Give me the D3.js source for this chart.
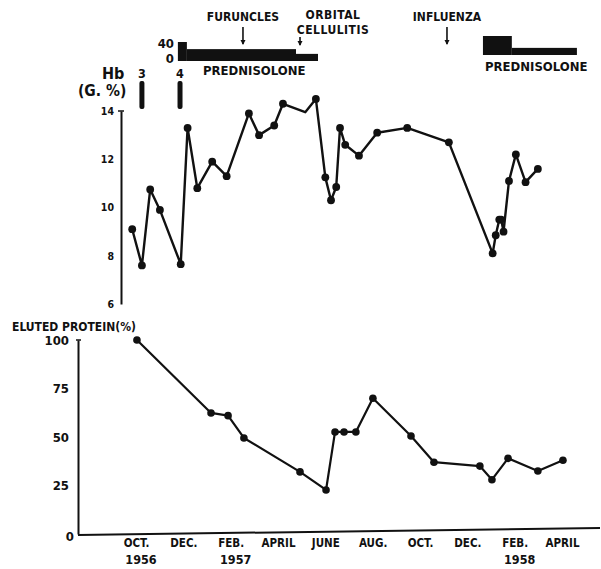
<!DOCTYPE html>
<html><head><meta charset="utf-8">
<script src="https://cdn.jsdelivr.net/npm/d3@7"></script>
<style>
html,body{margin:0;padding:0;background:#fff;}
svg text{font-family:"DejaVu Sans Condensed","DejaVu Sans",sans-serif;font-weight:bold;fill:#111;}
</style></head>
<body><svg id="c" width="601" height="569"></svg>
<script>
// ---- data (x in months since Oct 1956) ----
const monthTicks = [0,2,4,6,8,10,12,14,16,18];
const monthLabels = ["OCT.","DEC.","FEB.","APRIL","JUNE","AUG.","OCT.","DEC.","FEB.","APRIL"];
const yearTicks = [0,4,16];
const yearLabels = ["1956","1957","1958"];

const hbMonths = [-0.16,0.25,0.60,1.01,1.89,2.18,2.59,3.22,3.83,4.77,5.20,5.84,6.21,7.15,7.60,8.00,8.24,8.46,8.62,8.84,9.42,10.19,11.46,13.22,15.07,15.20,15.35,15.43,15.53,15.76,16.05,16.46,16.98];
const hbValues = [9.1,7.6,10.75,9.9,7.65,13.3,10.8,11.9,11.3,13.9,13.0,13.4,14.3,13.95,14.5,11.25,10.3,10.85,13.3,12.6,12.15,13.1,13.3,12.7,8.1,8.85,9.5,9.5,9.0,11.1,12.2,11.05,11.6];
const hbDotted = [1,1,1,1,1,1,1,1,1,1,1,1,1,0,1,1,1,1,1,1,1,1,1,1,1,1,1,1,1,1,1,1,1];
const hbTicks = [6,8,10,12,14];
const hbTickLabels = ["6","8","10","12","14"];

const protMonths = [0.04,3.17,3.89,4.56,6.93,8.03,8.41,8.79,9.29,10.01,11.62,12.59,14.53,15.04,15.72,16.98,18.04];
const protValues = [100,62.4,61,49.5,32,22.7,52.6,52.6,52.6,70,50.5,37,35,28,39,32.5,38];
const protTicks = [0,25,50,75,100];

const transfusionMonths = [0.25,1.86];
const transfusionUnits = [3,4];

const pred1Start = [1.77,2.15,6.76];
const pred1End   = [2.15,6.76,7.69];
const pred1Dose  = [40,25,15];
const pred2Start = [14.66,15.88];
const pred2End   = [15.88,18.63];
const pred2Dose  = [40,15];
const doseTicks = [0,40];

const eventLabels = [["FURUNCLES"],["ORBITAL","CELLULITIS"],["INFLUENZA"]];
const eventMonths = [4.52,6.93,13.14];

// ---- drawing ----
const svg = d3.select("#c");
const ink = "#111";
const x = d3.scaleLinear().domain([0,18]).range([136,562]);
const yHb = d3.scaleLinear().domain([6,14]).range([304,111]);
const yP = d3.scaleLinear().domain([0,100]).range([534,340]);
const doseH = d3.scaleLinear().domain([0,40]).range([0,19]);

// Hb axis
const gHb = svg.append("g").attr("transform","translate(121,0)")
  .call(d3.axisLeft(yHb).tickValues(hbTicks).tickFormat((d,i)=>hbTickLabels[i]).tickSizeInner(0).tickSizeOuter(0).tickPadding(7));
gHb.select(".domain").attr("stroke",ink).attr("stroke-width",2);
gHb.selectAll("text").style("font-size","10.5px").attr("fill",ink);
svg.append("line").attr("x1",118).attr("x2",124).attr("y1",yHb(14)).attr("y2",yHb(14)).attr("stroke",ink).attr("stroke-width",1.5);

svg.append("text").attr("x",102).attr("y",79).style("font-size","16px").text("Hb");
svg.append("text").attr("x",78).attr("y",96).style("font-size","15.5px").text("(G. %)");

// Hb line
const hbData = hbMonths.map((m,i)=>({m, v:hbValues[i], dot:hbDotted[i]}));
svg.append("path").datum(hbData)
  .attr("d", d3.line().x(d=>x(d.m)).y(d=>yHb(d.v)))
  .attr("fill","none").attr("stroke",ink).attr("stroke-width",2.4).attr("stroke-linejoin","round");
svg.selectAll(".hbdot").data(hbData.filter(d=>d.dot)).enter().append("circle")
  .attr("cx",d=>x(d.m)).attr("cy",d=>yHb(d.v)).attr("r",3.9).attr("fill",ink);

// transfusion bars
transfusionMonths.forEach((m,i)=>{
  svg.append("rect").attr("x",x(m)-2.5).attr("y",81).attr("width",5).attr("height",28).attr("rx",2).attr("fill",ink);
  svg.append("text").attr("x",x(m)).attr("y",78).attr("text-anchor","middle").style("font-size","12.5px").text(transfusionUnits[i]);
});

// prednisolone blocks
function predBlocks(starts, ends, doses, base){
  starts.forEach((s,i)=>{
    svg.append("rect").attr("x",x(s)).attr("width",x(ends[i])-x(s))
      .attr("y",base-doseH(doses[i])).attr("height",doseH(doses[i])).attr("fill",ink);
  });
}
predBlocks(pred1Start,pred1End,pred1Dose,61);
predBlocks(pred2Start,pred2End,pred2Dose,55);
doseTicks.forEach(d=>{
  svg.append("text").attr("x",174).attr("y",61-doseH(d)+ (d===0?2:6)).attr("text-anchor","end").style("font-size","13px").text(d);
});
svg.append("text").attr("x",203).attr("y",75).style("font-size","13px").text("PREDNISOLONE");
svg.append("text").attr("x",485).attr("y",71).style("font-size","13px").text("PREDNISOLONE");

// events
eventMonths.forEach((m,i)=>{
  const lab = eventLabels[i];
  const xx = x(m);
  if (lab.length===1){
    svg.append("text").attr("x",xx).attr("y",21).attr("text-anchor","middle").style("font-size","12px").text(lab[0]);
    svg.append("line").attr("x1",xx).attr("x2",xx).attr("y1",27).attr("y2",44).attr("stroke",ink).attr("stroke-width",1.6);
    svg.append("path").attr("d",`M${xx-2.5},40 L${xx+2.5},40 L${xx},45 Z`).attr("fill",ink);
  } else {
    svg.append("text").attr("x",xx+33).attr("y",19).attr("text-anchor","middle").style("font-size","12px").style("letter-spacing","0.5px").text(lab[0]);
    svg.append("text").attr("x",xx+33).attr("y",34).attr("text-anchor","middle").style("font-size","12px").style("letter-spacing","0.5px").text(lab[1]);
    svg.append("line").attr("x1",xx).attr("x2",xx).attr("y1",37).attr("y2",45).attr("stroke",ink).attr("stroke-width",1.6);
    svg.append("path").attr("d",`M${xx-2.5},41 L${xx+2.5},41 L${xx},46 Z`).attr("fill",ink);
  }
});

// Protein axis
const gP = svg.append("g").attr("transform","translate(78,0)")
  .call(d3.axisLeft(yP).tickValues(protTicks).tickSizeInner(0).tickSizeOuter(0).tickPadding(9));
gP.select(".domain").attr("stroke",ink).attr("stroke-width",2);
gP.selectAll("text").style("font-size","13px").attr("fill",ink);
gP.selectAll(".tick").filter(d=>d===0).select("text").attr("x",-4).attr("dy","0.5em");
svg.append("line").attr("x1",76).attr("x2",81).attr("y1",yP(100)).attr("y2",yP(100)).attr("stroke",ink).attr("stroke-width",1.5);
svg.append("text").attr("x",12).attr("y",331).style("font-size","12px").text("ELUTED PROTEIN(%)");

// x axis baseline (slightly skewed as in the drawing)
svg.append("line").attr("x1",78).attr("y1",yP(0)+1).attr("x2",600).attr("y2",yP(0)-6).attr("stroke",ink).attr("stroke-width",2);
const gX = svg.append("g").attr("transform",`translate(0,${yP(0)})`)
  .call(d3.axisBottom(x).tickValues(monthTicks).tickFormat((d,i)=>monthLabels[i]).tickSize(0).tickPadding(3));
gX.select(".domain").remove();
gX.selectAll("text").style("font-size","11.5px").attr("fill",ink).attr("dy","0.9em");
yearTicks.forEach((m,i)=>{
  svg.append("text").attr("x",x(m)+5).attr("y",564).attr("text-anchor","middle").style("font-size","12.5px").text(yearLabels[i]);
});

// Protein line
const pData = protMonths.map((m,i)=>({m, v:protValues[i]}));
svg.append("path").datum(pData)
  .attr("d", d3.line().x(d=>x(d.m)).y(d=>yP(d.v)))
  .attr("fill","none").attr("stroke",ink).attr("stroke-width",2.2).attr("stroke-linejoin","round");
svg.selectAll(".pdot").data(pData).enter().append("circle")
  .attr("cx",d=>x(d.m)).attr("cy",d=>yP(d.v)).attr("r",3.8).attr("fill",ink);
</script></body></html>
